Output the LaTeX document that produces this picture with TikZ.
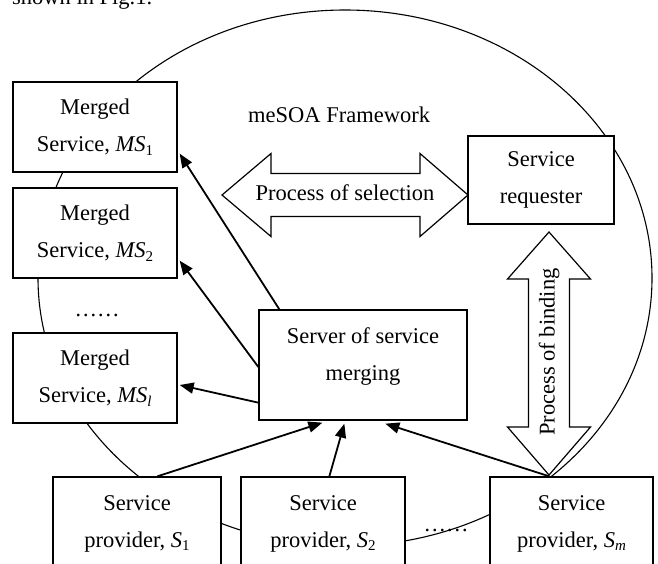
\documentclass[tikz,border=0pt]{standalone}
\usepackage{fontspec}
\setmainfont{Liberation Serif}
\usetikzlibrary{arrows.meta,calc}
\newcommand{\sbs}[1]{\raisebox{-0.35ex}{\fontsize{15}{15}\selectfont #1}}
\begin{document}
\begin{tikzpicture}[x=1pt,y=-1pt,
  box/.style={draw, line width=1.3pt, fill=white, inner sep=0pt,
    font=\fontsize{22.5}{37}\selectfont, align=center},
  txt/.style={font=\fontsize{22.5}{37}\selectfont, align=center, inner sep=0pt},
  conn/.style={line width=1.8pt, -{Triangle[length=14pt,width=11pt]}},
  bigarrow/.style={draw, line width=1.2pt, fill=white, line join=miter}]
\useasboundingbox (0,0) rectangle (658,563);

% page text cut at top
\node[txt, anchor=base west] (pagetext) at (12,4) {shown in Fig.1.};

% framework ellipse
\draw[line width=1.1pt] (345,278) ellipse [x radius=307pt, y radius=268pt];

\node[txt, anchor=west] (title) at (248,115) {meSOA Framework};

% selection double arrow
\coordinate (selL) at (222,195);
\coordinate (selR) at (468,195);
\draw[bigarrow] (selL) -- (271,153.5) -- (271,173.5) -- (420,173.5) -- (420,153.5)
  -- (selR) -- (420,236.5) -- (420,216.5) -- (271,216.5) -- (271,236.5) -- cycle;
\node[txt] (seltext) at (345,193) {Process of selection};

% binding double arrow
\coordinate (bindT) at (549,232);
\coordinate (bindB) at (549,475);
\draw[bigarrow] (bindT) -- (590.5,279) -- (569.5,279) -- (569.5,427) -- (590.5,427)
  -- (bindB) -- (507.5,427) -- (528.5,427) -- (528.5,279) -- (507.5,279) -- cycle;
\node[txt, rotate=90] (bindtext) at (549,352) {Process of binding};

% merged services
\node[box, minimum width=164pt, minimum height=90pt] (ms1) at (95,127)
  {Merged\\Service, \textit{MS}\sbs{1}};
\node[box, minimum width=164pt, minimum height=90pt] (ms2) at (95,233)
  {Merged\\Service, \textit{MS}\sbs{2}};
\node[txt] (msdots) at (97,315) {……};
\node[box, minimum width=164pt, minimum height=90pt] (msl) at (95,378)
  {Merged\\Service, \textit{MS}\sbs{\textit{l}}};

% requester
\node[box, minimum width=146pt, minimum height=88pt] (req) at (541,180)
  {Service\\requester};

% server
\node[box, minimum width=208pt, minimum height=110pt] (server) at (363,365) {};
\node[txt] (servertext) at (363,356) {Server of service\\merging};

% providers
\node[box, minimum width=168pt, minimum height=93pt] (s1) at (137,523.5)
  {Service\\provider, \textit{S}\sbs{1}};
\node[box, minimum width=164pt, minimum height=93pt] (s2) at (323,523.5)
  {Service\\provider, \textit{S}\sbs{2}};
\node[txt] (sdots) at (446,530) {……};
\node[box, minimum width=163pt, minimum height=93pt] (sm) at (571.5,523.5)
  {Service\\provider, \textit{S}\sbs{\textit{m}}};

% connectors
\draw[conn] ([xshift=21pt]server.north west) -- ([xshift=2pt,yshift=19pt]ms1.south east);
\draw[conn] ([yshift=-2pt]server.west) -- ([xshift=2pt,yshift=18pt]ms2.south east);
\draw[conn] ([yshift=18pt]server.south west) -- ([xshift=2pt,yshift=-7pt]msl.east);
\draw[conn] ([xshift=105pt]s1.north west) -- ([xshift=64pt,yshift=-2pt]server.south west);
\draw[conn] ([xshift=89pt]s2.north west) -- ([xshift=86pt,yshift=-3pt]server.south west);
\draw[conn] ([xshift=60pt]sm.north west) -- ([xshift=127pt,yshift=-3pt]server.south west);
\end{tikzpicture}
\end{document}
